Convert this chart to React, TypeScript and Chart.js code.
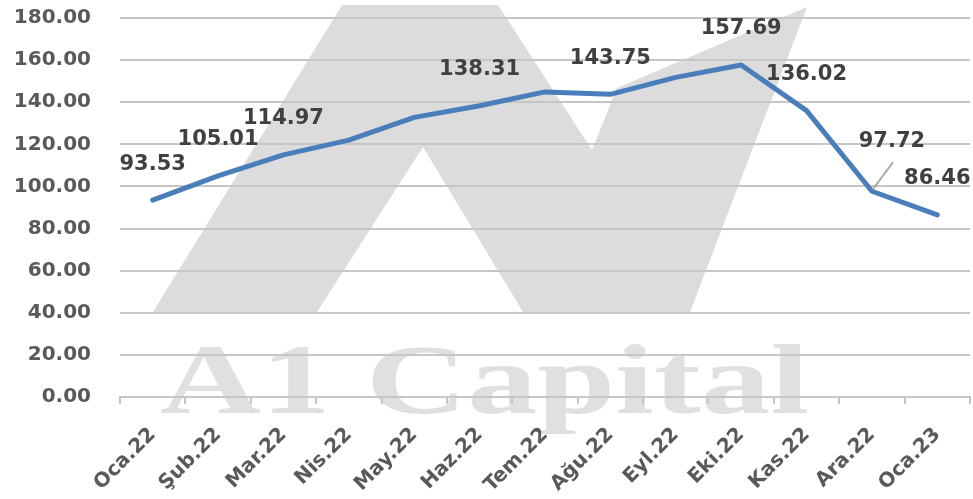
import React, { useEffect, useRef } from "react";
import { Chart, registerables } from "chart.js";

Chart.register(...registerables);

// ---- data ----
const months = ["Oca.22", "Şub.22", "Mar.22", "Nis.22", "May.22", "Haz.22", "Tem.22", "Ağu.22", "Eyl.22", "Eki.22", "Kas.22", "Ara.22", "Oca.23"];
const values = [93.53, 105.01, 114.97, 122.0, 132.8, 138.31, 144.9, 143.75, 151.8, 157.69, 136.02, 97.72, 86.46];
const showValueLabel = [true, true, true, false, false, true, false, true, false, true, true, true, true];
const yMin = 0;
const yMax = 180;
const yStep = 20;

// ---- styling ----
const LINE_COLOR = "#4a7ebb";
const GRID_COLOR = "#c6c6c6";
const TICK_COLOR = "#595959";
const LABEL_COLOR = "#404040";
const WATERMARK = "#dcdcdc";
const FONT = "'DejaVu Sans', sans-serif";
// special placement for the Ara.22 label (with leader line)
const LEADER_INDEX = 11;

// watermark polygon as fractions of chart area
const wmShape: [number, number][] = [
  [0.0388, 0.7757], [0.2612, -0.0343], [0.4447, -0.0343], [0.5553, 0.3483],
  [0.5847, 0.1847], [0.8082, -0.029], [0.6706, 0.7757], [0.4741, 0.7757],
  [0.3565, 0.3404], [0.2318, 0.7757],
];

const watermarkPlugin = {
  id: "watermark",
  beforeDraw(chart: any) {
    const { ctx, chartArea } = chart;
    const { left, top, right, bottom } = chartArea;
    const w = right - left;
    const h = bottom - top;
    ctx.save();
    ctx.fillStyle = WATERMARK;
    ctx.beginPath();
    wmShape.forEach(([fx, fy], i) => {
      const x = left + fx * w;
      const y = top + fy * h;
      if (i === 0) ctx.moveTo(x, y);
      else ctx.lineTo(x, y);
    });
    ctx.closePath();
    ctx.fill();
    // text
    ctx.fillStyle = "#e0e0e0";
    ctx.translate(left + 40, bottom + 16);
    ctx.scale(1.4, 1);
    ctx.font = "bold 100px 'Liberation Serif', serif";
    ctx.textAlign = "left";
    ctx.textBaseline = "alphabetic";
    ctx.fillText("A1 Capital", 0, 0);
    ctx.restore();
  },
};

const valueLabelPlugin = {
  id: "valueLabels",
  afterDatasetsDraw(chart: any) {
    const { ctx } = chart;
    const meta = chart.getDatasetMeta(0);
    ctx.save();
    ctx.font = `bold 21px ${FONT}`;
    ctx.fillStyle = LABEL_COLOR;
    ctx.textAlign = "center";
    ctx.textBaseline = "middle";
    meta.data.forEach((pt: any, i: number) => {
      if (!showValueLabel[i]) return;
      const text = values[i].toFixed(2);
      if (i === LEADER_INDEX) {
        ctx.strokeStyle = "#a6a6a6";
        ctx.lineWidth = 2;
        ctx.beginPath();
        ctx.moveTo(pt.x + 1, pt.y - 2);
        ctx.lineTo(pt.x + 21, pt.y - 29);
        ctx.stroke();
        ctx.fillText(text, pt.x + 20, pt.y - 50);
      } else {
        ctx.fillText(text, pt.x, pt.y - 36);
      }
    });
    ctx.restore();
  },
};

export default function App() {
  const canvasRef = useRef<HTMLCanvasElement | null>(null);

  useEffect(() => {
    const canvas = canvasRef.current;
    if (!canvas) return;
    const chart = new Chart(canvas, {
      type: "line",
      data: {
        labels: months,
        datasets: [
          {
            data: values,
            borderColor: LINE_COLOR,
            backgroundColor: LINE_COLOR,
            borderWidth: 5,
            pointRadius: 0,
            tension: 0,
            borderJoinStyle: "round",
            borderCapStyle: "round",
          },
        ],
      },
      options: {
        responsive: false,
        animation: false,
        layout: { padding: { top: 18, right: 3, left: 0, bottom: 0 } },
        plugins: {
          legend: { display: false },
          tooltip: { enabled: false },
        },
        scales: {
          x: {
            type: "category",
            offset: true,
            grid: {
              offset: true,
              drawOnChartArea: false,
              drawTicks: true,
              tickLength: 7,
              color: GRID_COLOR,
              lineWidth: 2,
            },
            border: { display: true, color: GRID_COLOR, width: 2 },
            ticks: {
              minRotation: 45,
              maxRotation: 45,
              autoSkip: false,
              padding: 19,
              color: TICK_COLOR,
              font: { family: FONT, size: 20, weight: "bold" },
            },
            afterFit(axis: any) {
              axis.height = 102;
              axis.paddingLeft = 0;
              axis.paddingRight = 0;
            },
          },
          y: {
            min: yMin,
            max: yMax,
            grid: {
              color: GRID_COLOR,
              lineWidth: 2,
              drawTicks: false,
            },
            border: { display: false },
            ticks: {
              stepSize: yStep,
              padding: 29,
              color: TICK_COLOR,
              font: { family: FONT, size: 20, weight: "bold" },
              callback: (v: any) => Number(v).toFixed(2),
            },
            afterFit(axis: any) {
              axis.width = 120;
              axis.paddingTop = 0;
              axis.paddingBottom = 0;
            },
          },
        },
      },
      plugins: [watermarkPlugin, valueLabelPlugin],
    });
    return () => chart.destroy();
  }, []);

  return (
    <div style={{ position: "fixed", left: 0, top: 0, width: 973, height: 499, background: "#fff" }}>
      <canvas ref={canvasRef} width={973} height={499} style={{ width: 973, height: 499 }} />
    </div>
  );
}
